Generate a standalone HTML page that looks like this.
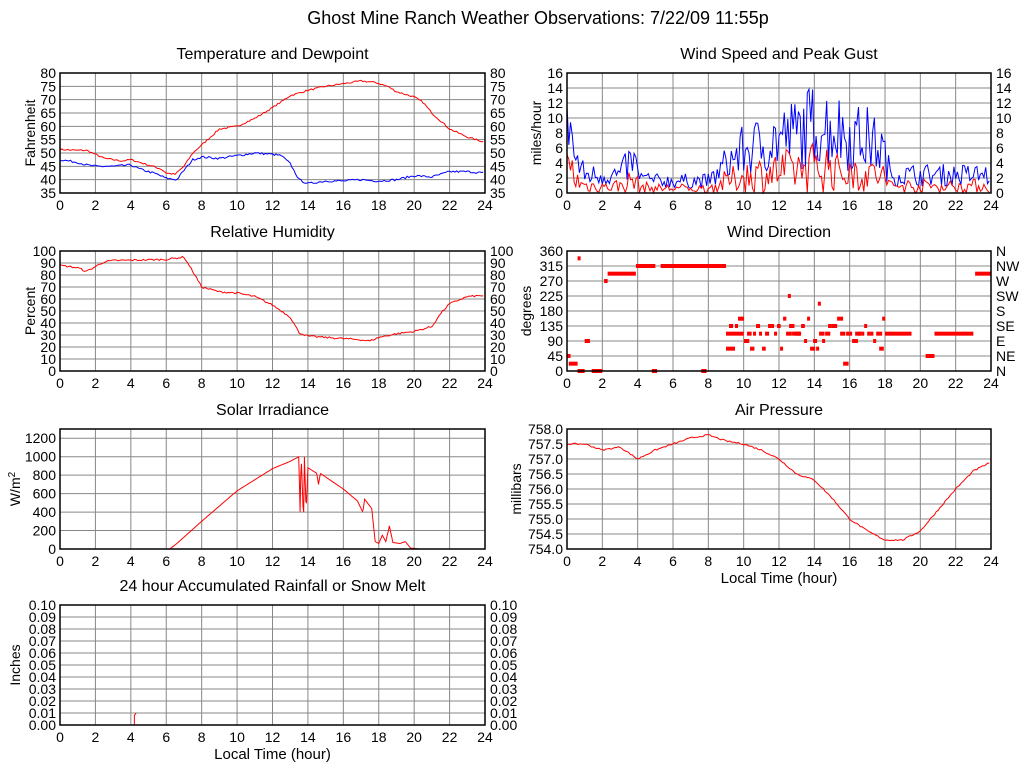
<!DOCTYPE html>
<html><head><meta charset="utf-8"><style>
body{margin:0;background:#fff}
svg{display:block;font-family:"Liberation Sans",sans-serif}
</style></head><body>
<svg id="s" width="1024" height="768" xmlns="http://www.w3.org/2000/svg"></svg>
<script>
var s=document.getElementById('s'),o='';
o+='<rect width="1024" height="768" fill="#fff"/>';
o+='<text x="538" y="24" font-size="18" text-anchor="middle">Ghost Mine Ranch Weather Observations: 7/22/09 11:55p</text>';
var seed=7;function rnd(){seed=(seed*16807)%2147483647;return seed/2147483647;}
function interp(p,h){for(var i=0;i<p.length-1;i++){if(h<=p[i+1][0]){var t=(h-p[i][0])/(p[i+1][0]-p[i][0]);return p[i][1]+t*(p[i+1][1]-p[i][1]);}}return p[p.length-1][1];}
function panel(P){
 var L=P.x,T=P.y,W=P.w,H=120,B=T+H;
 o+='<text x="'+(L+W/2)+'" y="'+(T-14)+'" font-size="16" text-anchor="middle">'+P.title+'</text>';
 for(var h=2;h<24;h+=2){var x=L+h*W/24;o+='<line x1="'+x+'" y1="'+T+'" x2="'+x+'" y2="'+B+'" stroke="#888"/>';}
 P.ticks.forEach(function(v,i){var y=B-(v-P.min)/(P.max-P.min)*H;
  if(y>T+1&&y<B-1)o+='<line x1="'+L+'" y1="'+y+'" x2="'+(L+W)+'" y2="'+y+'" stroke="#888"/>';
  var lab=P.fmt?P.fmt(v):v;
  o+='<text x="'+(L-4)+'" y="'+(y+5)+'" font-size="14" text-anchor="end">'+lab+'</text>';
  if(P.right)o+='<text x="'+(L+W+5)+'" y="'+(y+5)+'" font-size="14">'+(P.rlab?P.rlab[i]:lab)+'</text>';
 });
 for(var h=0;h<=24;h+=2){o+='<text x="'+(L+h*W/24)+'" y="'+(B+17)+'" font-size="14" text-anchor="middle">'+h+'</text>';}
 o+='<text transform="translate('+(P.yl_x)+','+(T+H/2)+') rotate(-90)" font-size="14" text-anchor="middle">'+P.ylab+'</text>';
 if(P.xlab)o+='<text x="'+(L+W/2)+'" y="'+(B+34)+'" font-size="15" text-anchor="middle">Local Time (hour)</text>';
 var X=function(h){return L+h*W/24},Y=function(v){return B-(v-P.min)/(P.max-P.min)*H};
 P.draw&&P.draw(X,Y);
 o+='<rect x="'+L+'" y="'+T+'" width="'+W+'" height="'+H+'" fill="none" stroke="#000" stroke-width="1.5"/>';
}
function line(X,Y,pts,col,noise,step){var d='';for(var h=0;h<=24;h+=step||0.1){var v=interp(pts,h)+(noise?(rnd()-0.5)*noise:0);d+=(d?'L':'M')+X(h).toFixed(1)+' '+Y(v).toFixed(1);}o+='<path d="'+d+'" fill="none" stroke="'+col+'" stroke-width="1"/>';}
function rng(a,b,s){var r=[];for(var v=a;v<=b+1e-9;v+=s)r.push(+v.toFixed(2));return r;}
var LX=60,RX=567,LW=425,RW=424;
panel({x:LX,y:73,w:LW,title:'Temperature and Dewpoint',min:35,max:80,ticks:rng(35,80,5),right:1,ylab:'Fahrenheit',yl_x:35,draw:function(X,Y){
 line(X,Y,[[0,51.3],[1,51],[1.5,51],[2,49.5],[2.5,48],[3,47.5],[3.5,47],[4,47.5],[5,45.5],[5.7,44],[6,42.5],[6.5,42],[7,45],[7.5,50],[8,53],[8.5,56],[9,59],[10,60],[11,63],[12,67],[13,71.5],[14,73.5],[15,75],[16,76],[17,77],[17.8,76.5],[18.5,75],[19,73],[20,71],[20.5,69],[21,65],[22,59],[23,56],[24,54]],'red',0.6);
 line(X,Y,[[0,47.5],[1,46.5],[1.5,45.5],[2,45],[3,45],[4,45.5],[4.5,44],[5,43],[5.5,42],[6,40.5],[6.6,40],[7,43.5],[7.5,47.5],[8,48.5],[9,48],[10,49],[11,50],[12,49.5],[12.5,49],[13,46],[13.5,40],[14,38.5],[15,39.5],[16,39.5],[17,40],[18,39.5],[19,40],[20,41.5],[21,41],[22,43],[23,43],[24,42.5]],'blue',0.8);}});
panel({x:RX,y:73,w:RW,title:'Wind Speed and Peak Gust',min:0,max:16,ticks:rng(0,16,2),right:1,ylab:'miles/hour',yl_x:541,draw:function(X,Y){
 var env=[[0,10],[0.15,14],[0.4,6],[1,3],[3,3],[3.7,5.5],[4.2,2.5],[5,2],[8,2],[8.5,3],[9,5],[10,7],[11,8],[12,9],[13,10],[14,11.5],[15,11],[16,9.5],[17,9],[17.9,7],[18.3,3],[24,3]];
 var db='',dr='';for(var h=0;h<=24;h+=0.1){var e=interp(env,h);var b=Math.max(0,Math.min(16,e*(0.3+rnd()*1.0)));var r=Math.max(0,Math.min(b,e*0.45*(rnd()*1.4)));db+=(db?'L':'M')+X(h).toFixed(1)+' '+Y(b).toFixed(1);dr+=(dr?'L':'M')+X(h).toFixed(1)+' '+Y(r).toFixed(1);}
 o+='<path d="'+db+'" fill="none" stroke="blue"/><path d="'+dr+'" fill="none" stroke="red"/>';}});
panel({x:LX,y:251,w:LW,title:'Relative Humidity',min:0,max:100,ticks:rng(0,100,10),right:1,ylab:'Percent',yl_x:35,draw:function(X,Y){
 line(X,Y,[[0,88],[1,86],[1.5,83],[2,87],[2.5,91],[3,92],[6,93],[7,95],[7.5,83],[8,70],[9,66],[10,65],[11,62],[12,55],[13,45],[13.5,32],[14,29],[15,28],[16,27],[17,26],[17.5,25],[18,28],[19,31],[20,33],[21,37],[21.5,48],[22,56],[23,62],[24,63]],'red',1.5);}});
panel({x:RX,y:251,w:RW,title:'Wind Direction',min:0,max:360,ticks:rng(0,360,45),right:1,rlab:['N','NE','E','SE','S','SW','W','NW','N'],ylab:'degrees',yl_x:531,draw:function(X,Y){
 function seg(a,b,d){o+='<rect x="'+X(a)+'" y="'+(Y(d)-2)+'" width="'+Math.max(3,X(b)-X(a))+'" height="4" fill="red"/>';}
 seg(2.1,2.3,270);seg(2.3,3.9,292);seg(3.9,5,315);seg(5.3,9,315);seg(23.1,24,292);
 seg(0,0.2,45);seg(0.1,0.6,22);seg(0.6,1,0);seg(1,1.3,90);seg(1.4,2,0);seg(0.6,0.7,338);
 seg(4.8,5.1,0);seg(7.6,7.9,0);seg(9,10,112);seg(18,19.5,112);seg(20.8,23,112);seg(20.3,20.8,45);
 for(var h=9;h<18;h+=0.17){var r=rnd();var d=r<0.5?112:(r<0.65?135:(r<0.78?90:(r<0.88?67:(r<0.95?157:22))));seg(h,h+0.05+rnd()*0.3,d);}
 seg(14.2,14.3,202);seg(12.5,12.6,225);}});
panel({x:LX,y:429,w:LW,title:'Solar Irradiance',min:0,max:1300,ticks:rng(0,1200,200),ylab:'W/m<tspan dy="-5" font-size="10">2</tspan>',yl_x:20,draw:function(X,Y){
 line(X,Y,[[0,0],[6.2,0],[6.6,60],[8,300],[10,630],[12,870],[13,950],[13.5,1000],[13.55,300],[13.62,1030],[13.7,600],[13.75,250],[13.8,1000],[13.9,400],[14,880],[14.5,820],[14.6,700],[14.7,820],[15,780],[16,650],[16.8,520],[17.1,400],[17.2,540],[17.6,440],[17.8,80],[18,60],[18.2,150],[18.4,80],[18.6,250],[18.8,70],[19.2,60],[19.5,80],[19.8,10],[20.3,0],[24,0]],'red',0,0.04);}});
panel({x:RX,y:429,w:RW,title:'Air Pressure',min:754,max:758,ticks:rng(754,758,0.5),ylab:'millibars',yl_x:521,xlab:1,fmt:function(v){return v.toFixed(1)},draw:function(X,Y){
 line(X,Y,[[0,757.5],[1,757.5],[2,757.3],[3,757.4],[4,757.0],[5,757.3],[6,757.5],[7,757.7],[8,757.8],[9,757.6],[10,757.5],[11,757.3],[12,757],[13,756.5],[14,756.3],[15,755.7],[16,755.0],[17,754.6],[18,754.3],[19,754.3],[20,754.6],[21,755.3],[22,756.0],[23,756.6],[24,756.9]],'red',0.05);}});
panel({x:LX,y:605,w:LW,title:'24 hour Accumulated Rainfall or Snow Melt',min:0,max:0.1,ticks:rng(0,0.1,0.01),right:1,ylab:'Inches',yl_x:20,xlab:1,fmt:function(v){return v.toFixed(2)},draw:function(X,Y){
 o+='<path d="M'+X(4.2)+' '+Y(0)+'L'+X(4.2)+' '+Y(0.008)+'L'+X(4.3)+' '+Y(0.01)+'" stroke="red" fill="none"/>';}});
s.innerHTML=o;
</script>
</body></html>
